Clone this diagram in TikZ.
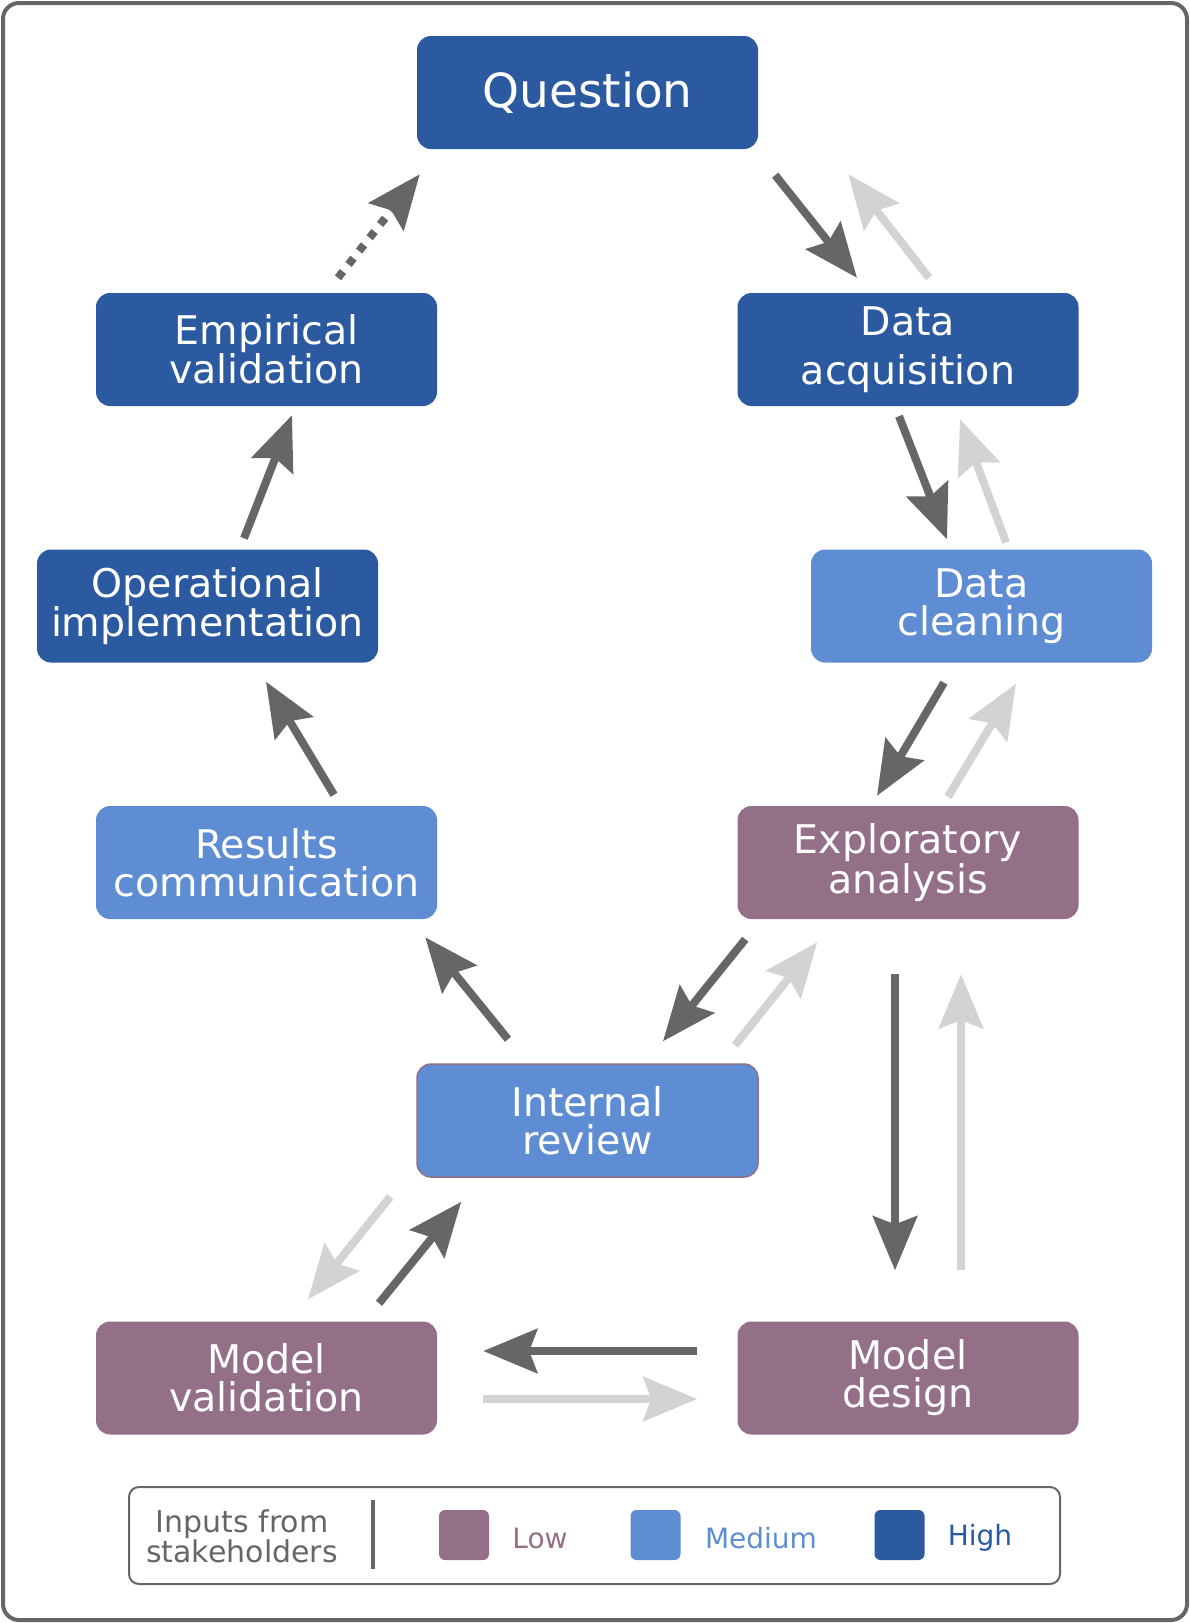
\documentclass[tikz,border=0pt]{standalone}
\usepackage{fontspec}
\setmainfont{DejaVu Sans}
\usetikzlibrary{arrows.meta}

\definecolor{hiblue}{HTML}{2B5AA0}
\definecolor{medblue}{HTML}{5F8DD3}
\definecolor{mauve}{HTML}{946F88}
\definecolor{arrowdark}{HTML}{666666}
\definecolor{arrowlight}{HTML}{D3D3D3}

\tikzset{
        box/.style={rectangle, rounded corners=14pt, minimum width=341pt, minimum height=113pt,
            inner sep=0pt, text=white, align=center, font=\fontsize{39.5}{38}\selectfont},
        hibox/.style={box, fill=hiblue},
        medbox/.style={box, fill=medblue},
        lowbox/.style={box, fill=mauve},
        fwd/.style={draw=arrowdark, line width=8pt, -{Stealth[length=54pt,width=44pt,inset=8pt]}},
        bwd/.style={draw=arrowlight, line width=8pt, -{Stealth[length=54pt,width=44pt,inset=8pt]}},
        swatch/.style={rectangle, rounded corners=6pt, minimum size=50pt, inner sep=0pt}
    }

\begin{document}
\begin{tikzpicture}[x=1pt,y=-1pt]
            \useasboundingbox (0,0) rectangle (1190,1623);
            \draw[draw=arrowdark, line width=4pt, rounded corners=16pt] (3,3) rectangle (1187,1620);

            \node [hibox, font=\fontsize{47}{47}\selectfont] (q) at (587.5, 92.5) {Question};
            \node [hibox] (ev) at (266.5, 349.5) {Empirical\\validation};
            \node [hibox] (da) at (908, 349.5) {Data\\[11pt]acquisition};
            \node [hibox] (oi) at (207.5, 606) {Operational\\implementation};
            \node [medbox] (dc) at (981.5, 606) {Data\\cleaning};
            \node [medbox] (rc) at (266.5, 862.5) {Results\\communication};
            \node [lowbox] (ea) at (908, 862.5) {Exploratory\\analysis};
            \node [medbox, draw=mauve, line width=1.5pt] (ir) at (587.5, 1120.5) {Internal\\review};
            \node [lowbox] (mv) at (266.5, 1378) {Model\\validation};
            \node [lowbox] (md) at (908, 1378) {Model\\design};

            \draw [fwd, dash pattern=on 8pt off 9pt] ([shift={(71.5,-15)}]ev.north) -- ([shift={(3,25)}]q.south west);
            \draw [fwd] ([shift={(17,26)}]q.south east) -- ([shift={(-51,-15)}]da.north);
            \draw [bwd] ([shift={(21,-15)}]da.north) -- ([shift={(90,25)}]q.south east);
            \draw [fwd] ([shift={(-9,10)}]da.south) -- ([shift={(-34.5,-10)}]dc.north);
            \draw [bwd] ([shift={(24.5,-7)}]dc.north) -- ([shift={(52,13)}]da.south);
            \draw [fwd] ([shift={(-37.5,20)}]dc.south) -- ([shift={(-31,-10)}]ea.north);
            \draw [bwd] ([shift={(40,-9)}]ea.north) -- ([shift={(34.5,21)}]dc.south);
            \draw [fwd] ([shift={(8,20)}]ea.south west) -- ([shift={(75.5,-22)}]ir.north);
            \draw [bwd] ([shift={(147.5,-18)}]ir.north) -- ([shift={(80,23)}]ea.south west);
            \draw [fwd] ([shift={(-79.5,-24)}]ir.north) -- ([shift={(-12,18)}]rc.south east);
            \draw [fwd] ([shift={(67.5,-11)}]rc.north) -- ([shift={(58.5,19)}]oi.south);
            \draw [fwd] ([shift={(36.5,-11)}]oi.north) -- ([shift={(25.5,9)}]ev.south);
            \draw [fwd] ([shift={(-13,55)}]ea.south) -- ([shift={(-13,-51)}]md.north);
            \draw [bwd] ([shift={(53,-51)}]md.north) -- ([shift={(53,55)}]ea.south);
            \draw [fwd] ([shift={(-40,-27)}]md.west) -- ([shift={(46,-27)}]mv.east);
            \draw [bwd] ([shift={(46,21)}]mv.east) -- ([shift={(-40,21)}]md.west);
            \draw [fwd] ([shift={(112.5,-18)}]mv.north) -- ([shift={(45,24)}]ir.south west);
            \draw [bwd] ([shift={(-26,19)}]ir.south west) -- ([shift={(41.5,-22)}]mv.north);

            % legend
            \draw [draw=arrowdark, line width=2pt, rounded corners=10pt] (129, 1487) rectangle (1060, 1584);
            \node [text=arrowdark, align=center, font=\fontsize{30}{28}\selectfont] (inputs) at (242, 1536) {Inputs from\\stakeholders};
            \coordinate (bartop) at (373, 1500);
            \coordinate (barbot) at (373, 1569);
            \draw [draw=arrowdark, line width=4pt] (bartop) -- (barbot);
            \node [swatch, fill=mauve] (lowkey) at (464, 1535) {};
            \node [swatch, fill=medblue] (medkey) at (655.5, 1535) {};
            \node [swatch, fill=hiblue] (hikey) at (899.5, 1535) {};
            \node [text=mauve, font=\fontsize{28}{28}\selectfont] (lowlbl) at (540, 1538) {Low};
            \node [text=medblue, font=\fontsize{28}{28}\selectfont] (medlbl) at (761, 1538) {Medium};
            \node [text=hiblue, font=\fontsize{28}{28}\selectfont] (hilbl) at (980, 1538) {High};
        \end{tikzpicture}
\end{document}
